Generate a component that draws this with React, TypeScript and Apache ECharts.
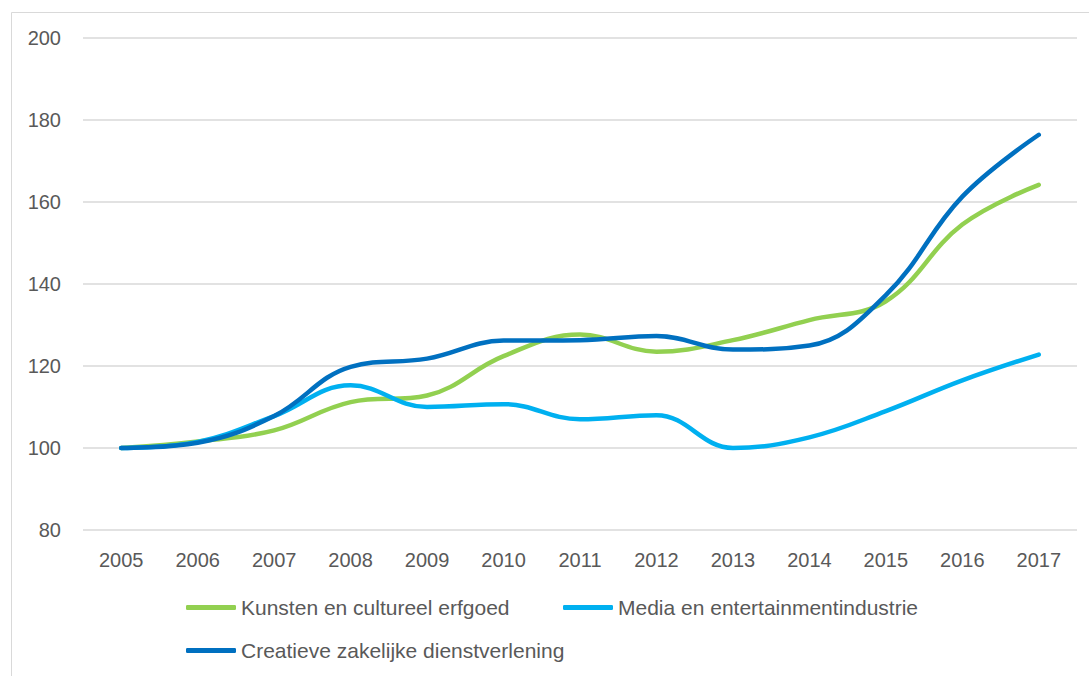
import React, { useEffect, useRef } from "react";
import * as echarts from "echarts";

const years = ["2005", "2006", "2007", "2008", "2009", "2010", "2011", "2012", "2013", "2014", "2015", "2016", "2017"];
const kunsten = [100, 101.6, 104.3, 111.2, 112.8, 122.4, 127.7, 123.5, 126.3, 131.2, 135.8, 154.5, 164.2];
const media = [100, 101.5, 107.8, 115.3, 110.0, 110.7, 107.0, 108.0, 100.0, 102.6, 109.0, 116.5, 122.8];
const creatieve = [100, 101.3, 107.8, 119.8, 121.8, 126.2, 126.3, 127.3, 124.0, 125.0, 137.3, 161.3, 176.4];
const seriesNames = ["Kunsten en cultureel erfgoed", "Media en entertainmentindustrie", "Creatieve zakelijke dienstverlening"];
const colors = ["#92D050", "#00B0F0", "#0070C0"];

const FONT = "'Liberation Sans', Arial, sans-serif";
const TXT = "#595959";

export default function App() {
  const ref = useRef<HTMLDivElement>(null);
  useEffect(() => {
    if (!ref.current) return;
    const chart = echarts.init(ref.current, undefined, { renderer: "svg" });
    const values = [kunsten, media, creatieve];
    const legendBase = {
      padding: 0,
      icon: "roundRect",
      itemWidth: 50,
      itemHeight: 5,
      textStyle: { color: TXT, fontSize: 21, fontFamily: FONT, padding: [0, 0, 0, 0] },
    };
    chart.setOption({
      animation: false,
      backgroundColor: "#ffffff",
      graphic: [
        {
          type: "rect",
          shape: { x: 11.5, y: 12.5, width: 1200, height: 800 },
          style: { fill: "none", stroke: "#D9D9D9", lineWidth: 1 },
          silent: true,
        },
      ],
      grid: { left: 83, right: 12, top: 38, bottom: 146 },
      legend: [
        { ...legendBase, data: [seriesNames[0]], left: 186, top: 597, itemGap: 5 },
        { ...legendBase, data: [seriesNames[1]], left: 563, top: 597, itemGap: 5 },
        { ...legendBase, data: [seriesNames[2]], left: 186, top: 640, itemGap: 5 },
      ],
      xAxis: {
        type: "category",
        data: years,
        boundaryGap: true,
        axisLine: { show: false },
        axisTick: { show: false },
        axisLabel: { color: TXT, fontSize: 20, fontFamily: FONT, margin: 20 },
      },
      yAxis: {
        type: "value",
        min: 80,
        max: 200,
        interval: 20,
        axisLine: { show: false },
        axisTick: { show: false },
        axisLabel: { color: TXT, fontSize: 20, fontFamily: FONT, margin: 22 },
        splitLine: { lineStyle: { color: "#D9D9D9", width: 1.5 } },
      },
      series: values.map((v, i) => ({
        name: seriesNames[i],
        type: "line",
        data: v,
        smooth: 0.4,
        symbol: "none",
        showSymbol: false,
        color: colors[i],
        lineStyle: { color: colors[i], width: 4.5, cap: "round", join: "round" },
        itemStyle: { color: colors[i] },
        z: 2 + i,
      })),
    });
    return () => chart.dispose();
  }, []);
  return <div ref={ref} style={{ position: "fixed", left: 0, top: 0, width: 1089, height: 676 }} />;
}
